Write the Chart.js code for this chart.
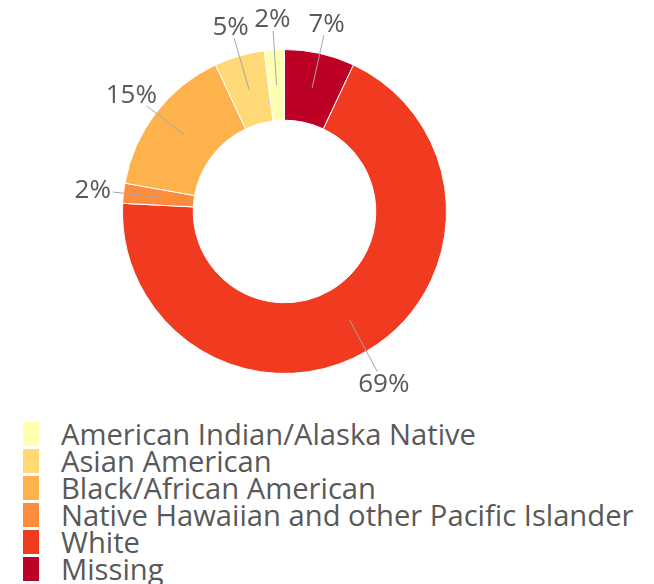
<!DOCTYPE html>
<html>
<head>
<meta charset="utf-8">
<script src="https://cdn.jsdelivr.net/npm/chart.js@4"></script>
<style>
  html, body { margin: 0; padding: 0; background: #fff; }
  body { width: 654px; height: 584px; position: relative; overflow: hidden; font-family: "Open Sans", sans-serif; }
  #wrap { position: absolute; left: 0; top: 0; width: 654px; height: 410px; }
  .lg-row { position: absolute; left: 23px; height: 24px; }
  .lg-box { position: absolute; left: 0; top: 0; width: 16px; height: 24px; }
  .lg-text { position: absolute; left: 38px; top: 0; font-size: 29.2px; line-height: 24px; color: #595959; white-space: nowrap; }
</style>
</head>
<body>
<div id="wrap"><canvas id="c" width="654" height="410"></canvas></div>
<div id="legend"></div>
<script>
// Drawing order (clockwise from 12 o'clock)
const categories = ["Missing", "White", "Native Hawaiian and other Pacific Islander", "Black/African American", "Asian American", "American Indian/Alaska Native"];
const shares = [7.0, 68.8, 2.0, 15.2, 5.0, 2.0];
const pctLabels = ["7%", "69%", "2%", "15%", "5%", "2%"];
const colors = ["#BD0026", "#F03B20", "#FD8D3C", "#FEB24C", "#FED976", "#FFFFB2"];
// Legend order
const legendOrder = ["American Indian/Alaska Native", "Asian American", "Black/African American", "Native Hawaiian and other Pacific Islander", "White", "Missing"];

const labelPlugin = {
  id: 'outerLabels',
  afterDatasetsDraw(chart) {
    const ctx = chart.ctx;
    const meta = chart.getDatasetMeta(0);
    ctx.save();
    ctx.font = '26px "Open Sans", sans-serif';
    ctx.textAlign = 'center';
    ctx.textBaseline = 'middle';
    meta.data.forEach((arc, i) => {
      const p = arc.getProps(['x','y','startAngle','endAngle','innerRadius','outerRadius'], true);
      const a = (p.startAngle + p.endAngle) / 2;
      const ux = Math.cos(a), uy = Math.sin(a);
      const rMid = (p.innerRadius + p.outerRadius) / 2;
      const rLab = p.outerRadius + 31;
      const px = p.x + ux * rMid, py = p.y + uy * rMid;
      const cx = p.x + ux * rLab, cy = p.y + uy * rLab * (uy > 0 ? 1.04 : 1);
      const txt = pctLabels[i];
      const hw = ctx.measureText(txt).width / 2 + 2, hh = 12;
      const dx = cx - px, dy = cy - py;
      const tx = Math.abs(dx) > 0 ? (Math.abs(dx) - hw) / Math.abs(dx) : 0;
      const ty = Math.abs(dy) > 0 ? (Math.abs(dy) - hh) / Math.abs(dy) : 0;
      const t = Math.max(0, Math.min(1, Math.max(tx, ty)));
      const ex = px + dx * t, ey = py + dy * t;
      ctx.strokeStyle = '#A6A6A6';
      ctx.lineWidth = 1;
      ctx.beginPath();
      ctx.moveTo(px, py);
      ctx.lineTo(ex, ey);
      ctx.stroke();
      ctx.fillStyle = '#595959';
      ctx.fillText(txt, cx, cy + 1);
    });
    ctx.restore();
  }
};

new Chart(document.getElementById('c'), {
  type: 'doughnut',
  data: {
    labels: categories,
    datasets: [{
      data: shares,
      backgroundColor: colors,
      borderColor: '#ffffff',
      borderWidth: 1,
      hoverOffset: 0
    }]
  },
  options: {
    responsive: false,
    animation: false,
    radius: 162,
    cutout: 91,
    layout: { padding: { left: 122.5, right: 207.5, top: 49.5, bottom: 36.5 } },
    plugins: { legend: { display: false }, tooltip: { enabled: false } }
  },
  plugins: [labelPlugin]
});

const lg = document.getElementById('legend');
legendOrder.forEach((name, i) => {
  const idx = categories.indexOf(name);
  const row = document.createElement('div');
  row.className = 'lg-row';
  row.style.top = (422 + i * 27) + 'px';
  const box = document.createElement('div');
  box.className = 'lg-box';
  box.style.background = colors[idx];
  const tx = document.createElement('div');
  tx.className = 'lg-text';
  tx.textContent = name;
  row.appendChild(box);
  row.appendChild(tx);
  lg.appendChild(row);
});
</script>
</body>
</html>
